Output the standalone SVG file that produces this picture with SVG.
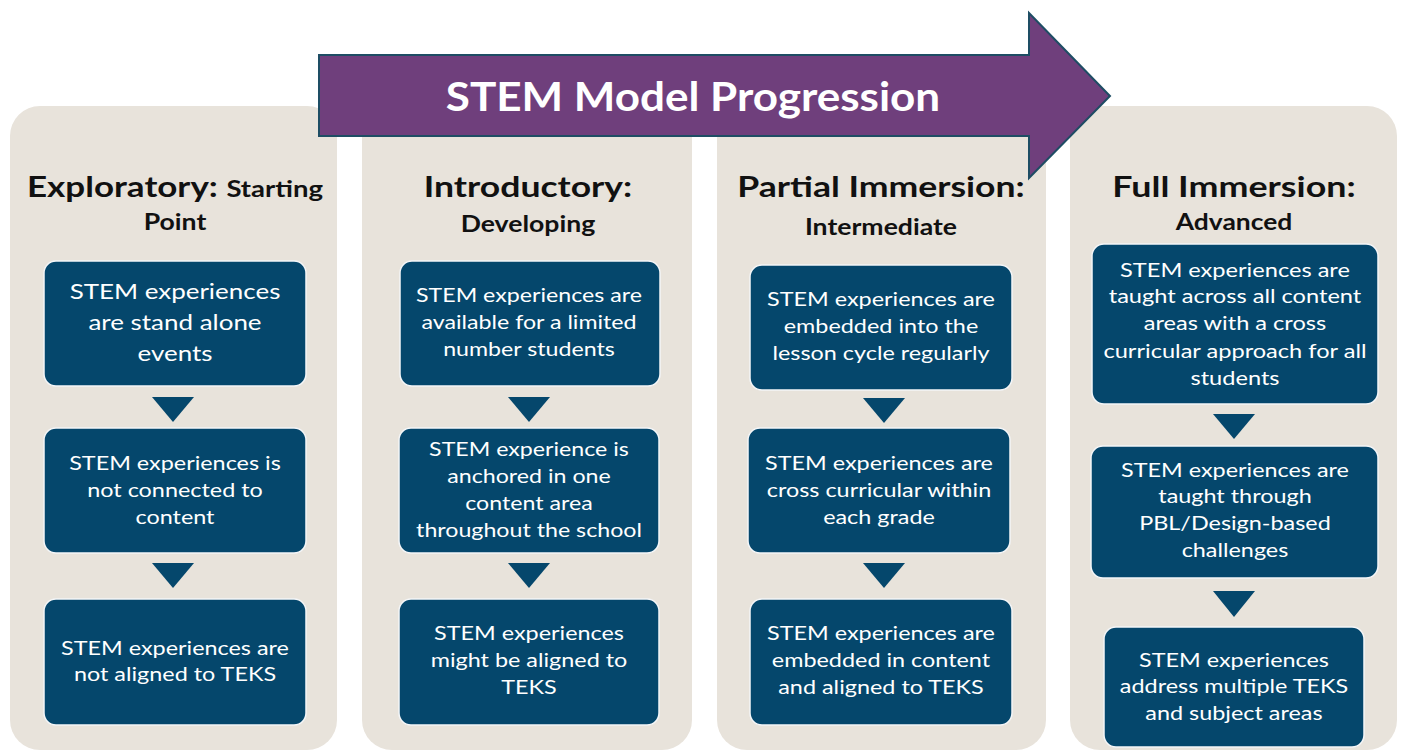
<svg xmlns="http://www.w3.org/2000/svg" width="1401" height="752" viewBox="0 0 1401 752">
<style>
.panel{fill:#E8E3DB;}
.box{fill:#05476C;stroke:#F4F6F8;stroke-width:1.5;}
.tri{fill:#05476C;}
.h1{font-family:Lato,"Open Sans",sans-serif;font-weight:bold;font-size:28px;fill:#111;text-anchor:middle;}
.h2{font-family:Lato,"Open Sans",sans-serif;font-weight:bold;font-size:22px;fill:#111;text-anchor:middle;}
.t{font-family:Lato,"Open Sans",sans-serif;font-size:20px;fill:#fff;text-anchor:middle;}
.tl{font-family:Lato,"Open Sans",sans-serif;font-size:22px;fill:#fff;text-anchor:middle;}
</style>
<rect width="1401" height="752" fill="#fff"/>
<g id="col1">
<rect class="panel" x="10" y="106" width="327" height="644" rx="30"/>
<text class="h1" x="175" y="197" transform="translate(175 0) scale(1.25 1) translate(-175 0)">Exploratory: <tspan style="font-size:22px">Starting</tspan></text>
<text class="h2" x="175" y="230" transform="translate(175 0) scale(1.21 1) translate(-175 0)">Point</text>
</g>
<g id="col2">
<rect class="panel" x="362" y="106" width="330" height="644" rx="30"/>
<text class="h1" x="528" y="197" transform="translate(528 0) scale(1.27 1) translate(-528 0)">Introductory:</text>
<text class="h2" x="528" y="232" transform="translate(528 0) scale(1.21 1) translate(-528 0)">Developing</text>
</g>
<g id="col3">
<rect class="panel" x="717" y="106" width="329" height="644" rx="30"/>
<text class="h1" x="881" y="197" transform="translate(881 0) scale(1.27 1) translate(-881 0)">Partial Immersion:</text>
<text class="h2" x="881" y="235" transform="translate(881 0) scale(1.21 1) translate(-881 0)">Intermediate</text>
</g>
<g id="col4">
<rect class="panel" x="1070" y="106" width="327" height="644" rx="30"/>
<text class="h1" x="1234" y="197" transform="translate(1234 0) scale(1.28 1) translate(-1234 0)">Full Immersion:</text>
<text class="h2" x="1234" y="230" transform="translate(1234 0) scale(1.2 1) translate(-1234 0)">Advanced</text>
</g>
<g id="n1a"><rect class="box" x="44" y="261" width="262" height="125" rx="12"/>
<g transform="translate(175 0) scale(1.18 1) translate(-175 0)"><text class="tl" x="175" y="299">STEM experiences</text><text class="tl" x="175" y="330">are stand alone</text><text class="tl" x="175" y="361">events</text></g></g>
<g id="n1b"><rect class="box" x="44" y="428" width="262" height="125" rx="12"/>
<g transform="translate(175 0) scale(1.17 1) translate(-175 0)"><text class="t" x="175" y="470">STEM experiences is</text><text class="t" x="175" y="497">not connected to</text><text class="t" x="175" y="524">content</text></g></g>
<g id="n1c"><rect class="box" x="44" y="599" width="262" height="126" rx="12"/>
<g transform="translate(175 0) scale(1.17 1) translate(-175 0)"><text class="t" x="175" y="655">STEM experiences are</text><text class="t" x="175" y="681">not aligned to TEKS</text></g></g>
<g id="n2a"><rect class="box" x="400" y="261" width="260" height="125" rx="12"/>
<g transform="translate(529 0) scale(1.16 1) translate(-529 0)"><text class="t" x="529" y="302">STEM experiences are</text><text class="t" x="529" y="329">available for a limited</text><text class="t" x="529" y="356">number students</text></g></g>
<g id="n2b"><rect class="box" x="399" y="428" width="260" height="125" rx="12"/>
<g transform="translate(529 0) scale(1.16 1) translate(-529 0)"><text class="t" x="529" y="456">STEM experience is</text><text class="t" x="529" y="483">anchored in one</text><text class="t" x="529" y="510">content area</text><text class="t" x="529" y="537">throughout the school</text></g></g>
<g id="n2c"><rect class="box" x="399" y="599" width="260" height="126" rx="12"/>
<g transform="translate(529 0) scale(1.17 1) translate(-529 0)"><text class="t" x="529" y="640">STEM experiences</text><text class="t" x="529" y="667">might be aligned to</text><text class="t" x="529" y="694">TEKS</text></g></g>
<g id="n3a"><rect class="box" x="750" y="265" width="262" height="125" rx="12"/>
<g transform="translate(881 0) scale(1.17 1) translate(-881 0)"><text class="t" x="881" y="306">STEM experiences are</text><text class="t" x="881" y="333">embedded into the</text><text class="t" x="881" y="360">lesson cycle regularly</text></g></g>
<g id="n3b"><rect class="box" x="748" y="428" width="262" height="125" rx="12"/>
<g transform="translate(879 0) scale(1.17 1) translate(-879 0)"><text class="t" x="879" y="470">STEM experiences are</text><text class="t" x="879" y="497">cross curricular within</text><text class="t" x="879" y="524">each grade</text></g></g>
<g id="n3c"><rect class="box" x="750" y="599" width="262" height="126" rx="12"/>
<g transform="translate(881 0) scale(1.17 1) translate(-881 0)"><text class="t" x="881" y="640">STEM experiences are</text><text class="t" x="881" y="667">embedded in content</text><text class="t" x="881" y="694">and aligned to TEKS</text></g></g>
<g id="n4a"><rect class="box" x="1092" y="244" width="286" height="160" rx="12"/>
<g transform="translate(1235 0) scale(1.18 1) translate(-1235 0)"><text class="t" x="1235" y="277">STEM experiences are</text><text class="t" x="1235" y="303">taught across all content</text><text class="t" x="1235" y="330">areas with a cross</text><text class="t" x="1235" y="358">curricular approach for all</text><text class="t" x="1235" y="385">students</text></g></g>
<g id="n4b"><rect class="box" x="1091" y="446" width="287" height="132" rx="12"/>
<g transform="translate(1235 0) scale(1.17 1) translate(-1235 0)"><text class="t" x="1235" y="477">STEM experiences are</text><text class="t" x="1235" y="503">taught through</text><text class="t" x="1235" y="530">PBL/Design-based</text><text class="t" x="1235" y="557">challenges</text></g></g>
<g id="n4c"><rect class="box" x="1104" y="627" width="260" height="120" rx="12"/>
<g transform="translate(1234 0) scale(1.17 1) translate(-1234 0)"><text class="t" x="1234" y="667">STEM experiences</text><text class="t" x="1234" y="693">address multiple TEKS</text><text class="t" x="1234" y="720">and subject areas</text></g></g>
<g id="connectors">
<polygon class="tri" points="152,397 194,397 173,422"/>
<polygon class="tri" points="152,563 194,563 173,588"/>
<polygon class="tri" points="508,397 550,397 529,422"/>
<polygon class="tri" points="508,563 550,563 529,588"/>
<polygon class="tri" points="863,398 905,398 884,423"/>
<polygon class="tri" points="863,563 905,563 884,588"/>
<polygon class="tri" points="1213,414 1255,414 1234,439"/>
<polygon class="tri" points="1213,591 1255,591 1234,617"/>
</g>
<g id="arrow">
<polygon points="319,55 1029,55 1029,13 1110,96 1029,178 1029,136 319,136" fill="#6F3F7C" stroke="#1E4D64" stroke-width="2" stroke-linejoin="miter"/>
<text x="693" y="111" font-family="Lato,'Open Sans',sans-serif" font-weight="bold" font-size="40" fill="#fff" text-anchor="middle" transform="translate(693 0) scale(1.1 1) translate(-693 0)">STEM Model Progression</text>
</g>
</svg>
